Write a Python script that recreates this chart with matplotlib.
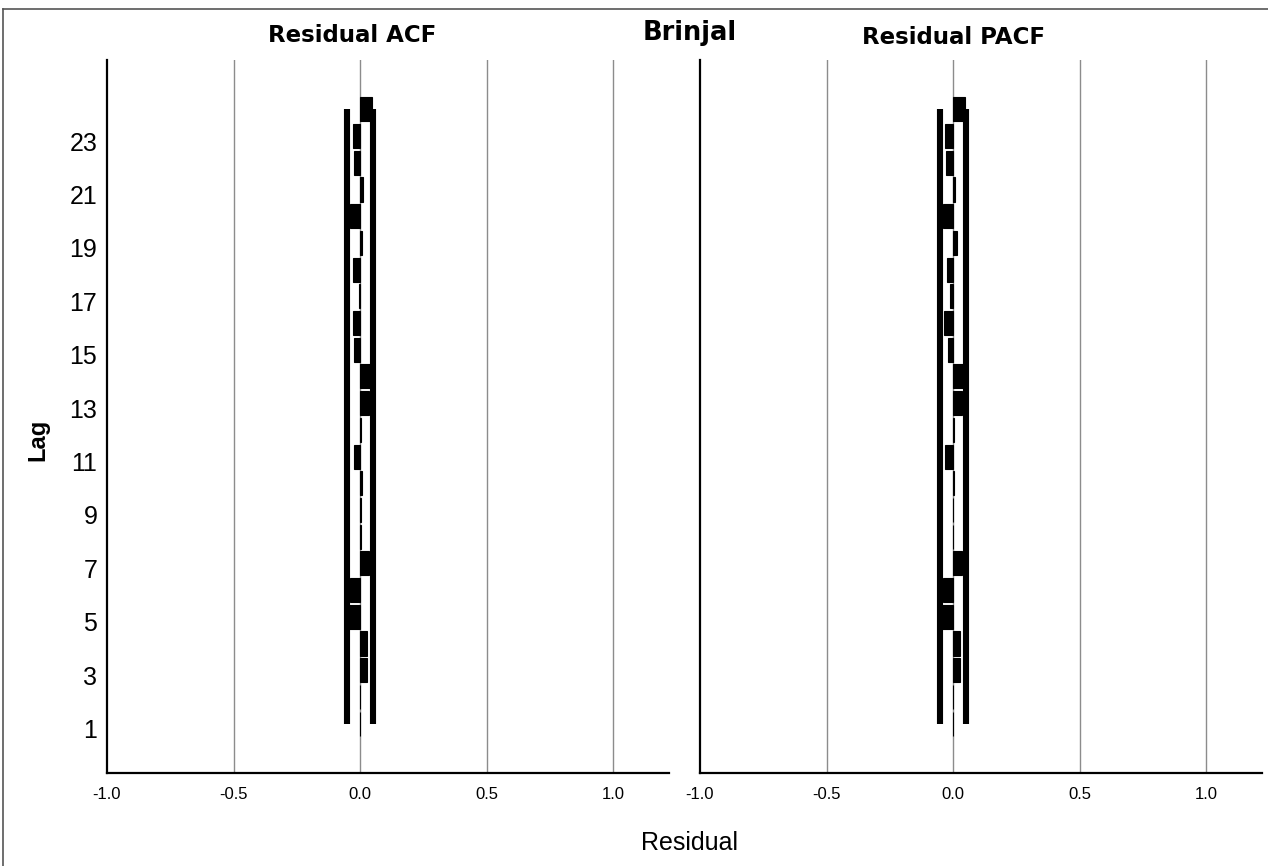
"""Residual ACF / PACF bar charts for the Brinjal price model (SPSS style)."""

import matplotlib

matplotlib.use("Agg")
import matplotlib.pyplot as plt
from matplotlib.lines import Line2D
from matplotlib.transforms import ScaledTranslation

lags = list(range(1, 25))

# lag 1 .. lag 24
acf_values = [0.000, 0.001, 0.026, 0.026, -0.046, -0.042, 0.036, 0.004,
              0.004, 0.009, -0.026, 0.004, 0.033, 0.045, -0.026, -0.030,
              -0.006, -0.030, 0.009, -0.042, 0.013, -0.026, -0.030, 0.046]
pacf_values = [0.000, 0.001, 0.029, 0.026, -0.046, -0.042, 0.036, 0.001,
               0.001, 0.004, -0.033, 0.002, 0.036, 0.046, -0.022, -0.036,
               -0.013, -0.026, 0.017, -0.040, 0.006, -0.030, -0.033, 0.046]
acf_limit = [0.052] * len(lags)
pacf_limit = [0.052] * len(lags)

x_ticks = [-1.0, -0.5, 0.0, 0.5, 1.0]
x_tick_labels = ["-1.0", "-0.5", "0.0", "0.5", "1.0"]
y_ticks = list(range(1, 24, 2))

W, H = 1268, 866
fig = plt.figure(figsize=(W / 100, H / 100), dpi=100)

panels = [
    (107, acf_values, acf_limit, "Residual ACF", 352, 36),
    (700, pacf_values, pacf_limit, "Residual PACF", 954, 38),
]

for i, (left_px, values, limit, title, tx, ty) in enumerate(panels):
    ax = fig.add_axes([left_px / W, (H - 773) / H, 562 / W, 713 / H])
    ax.set_xlim(-1.0, 1.22)
    ax.set_ylim(-0.85, 25.85)

    for xv in x_ticks[1:]:
        ax.axvline(xv, color="#8c8c8c", lw=1.0, zorder=0)

    ax.barh(lags, values, height=0.9, color="black", edgecolor="black",
            lw=0.8, zorder=2)
    ax.plot([-v for v in limit], lags, color="black", lw=4.4,
            solid_capstyle="butt", zorder=3)
    ax.plot(limit, lags, color="black", lw=4.4,
            solid_capstyle="butt", zorder=3)

    for side in ("top", "right"):
        ax.spines[side].set_visible(False)
    ax.spines["left"].set_linewidth(1.6)
    ax.spines["bottom"].set_linewidth(1.6)

    ax.set_xticks(x_ticks)
    ax.set_xticklabels(x_tick_labels, fontsize=12, family="Liberation Sans")
    ax.tick_params(axis="x", length=0, pad=10)

    if i == 0:
        ax.set_yticks(y_ticks)
        ax.set_yticklabels([str(v) for v in y_ticks], fontsize=18,
                           family="Liberation Sans")
        ax.tick_params(axis="y", length=0, pad=7)
        shift = ScaledTranslation(0, -0.05, fig.dpi_scale_trans)
        for label in ax.get_yticklabels():
            label.set_transform(label.get_transform() + shift)
    else:
        ax.set_yticks([])

    fig.text(tx / W, 1 - ty / H, title, ha="center", va="center",
             fontsize=16.5, fontweight="bold", family="DejaVu Sans")

fig.text(690 / W, 1 - 33 / H, "Brinjal", ha="center", va="center",
         fontsize=18.5, fontweight="bold", family="DejaVu Sans")
fig.text(690 / W, 1 - 843 / H, "Residual", ha="center", va="center",
         fontsize=18, family="Liberation Sans")
fig.text(38 / W, 1 - 440 / H, "Lag", ha="center", va="center", rotation=90,
         fontsize=17, fontweight="bold", family="Liberation Sans")

# frame of the exported picture (top and left edges only)
fig.add_artist(Line2D([3 / W, 1.0], [1 - 9 / H, 1 - 9 / H], color="#555555",
                      lw=1.2, transform=fig.transFigure))
fig.add_artist(Line2D([3 / W, 3 / W], [0.0, 1 - 9 / H], color="#555555",
                      lw=1.2, transform=fig.transFigure))

fig.savefig("out.png", dpi=100)
